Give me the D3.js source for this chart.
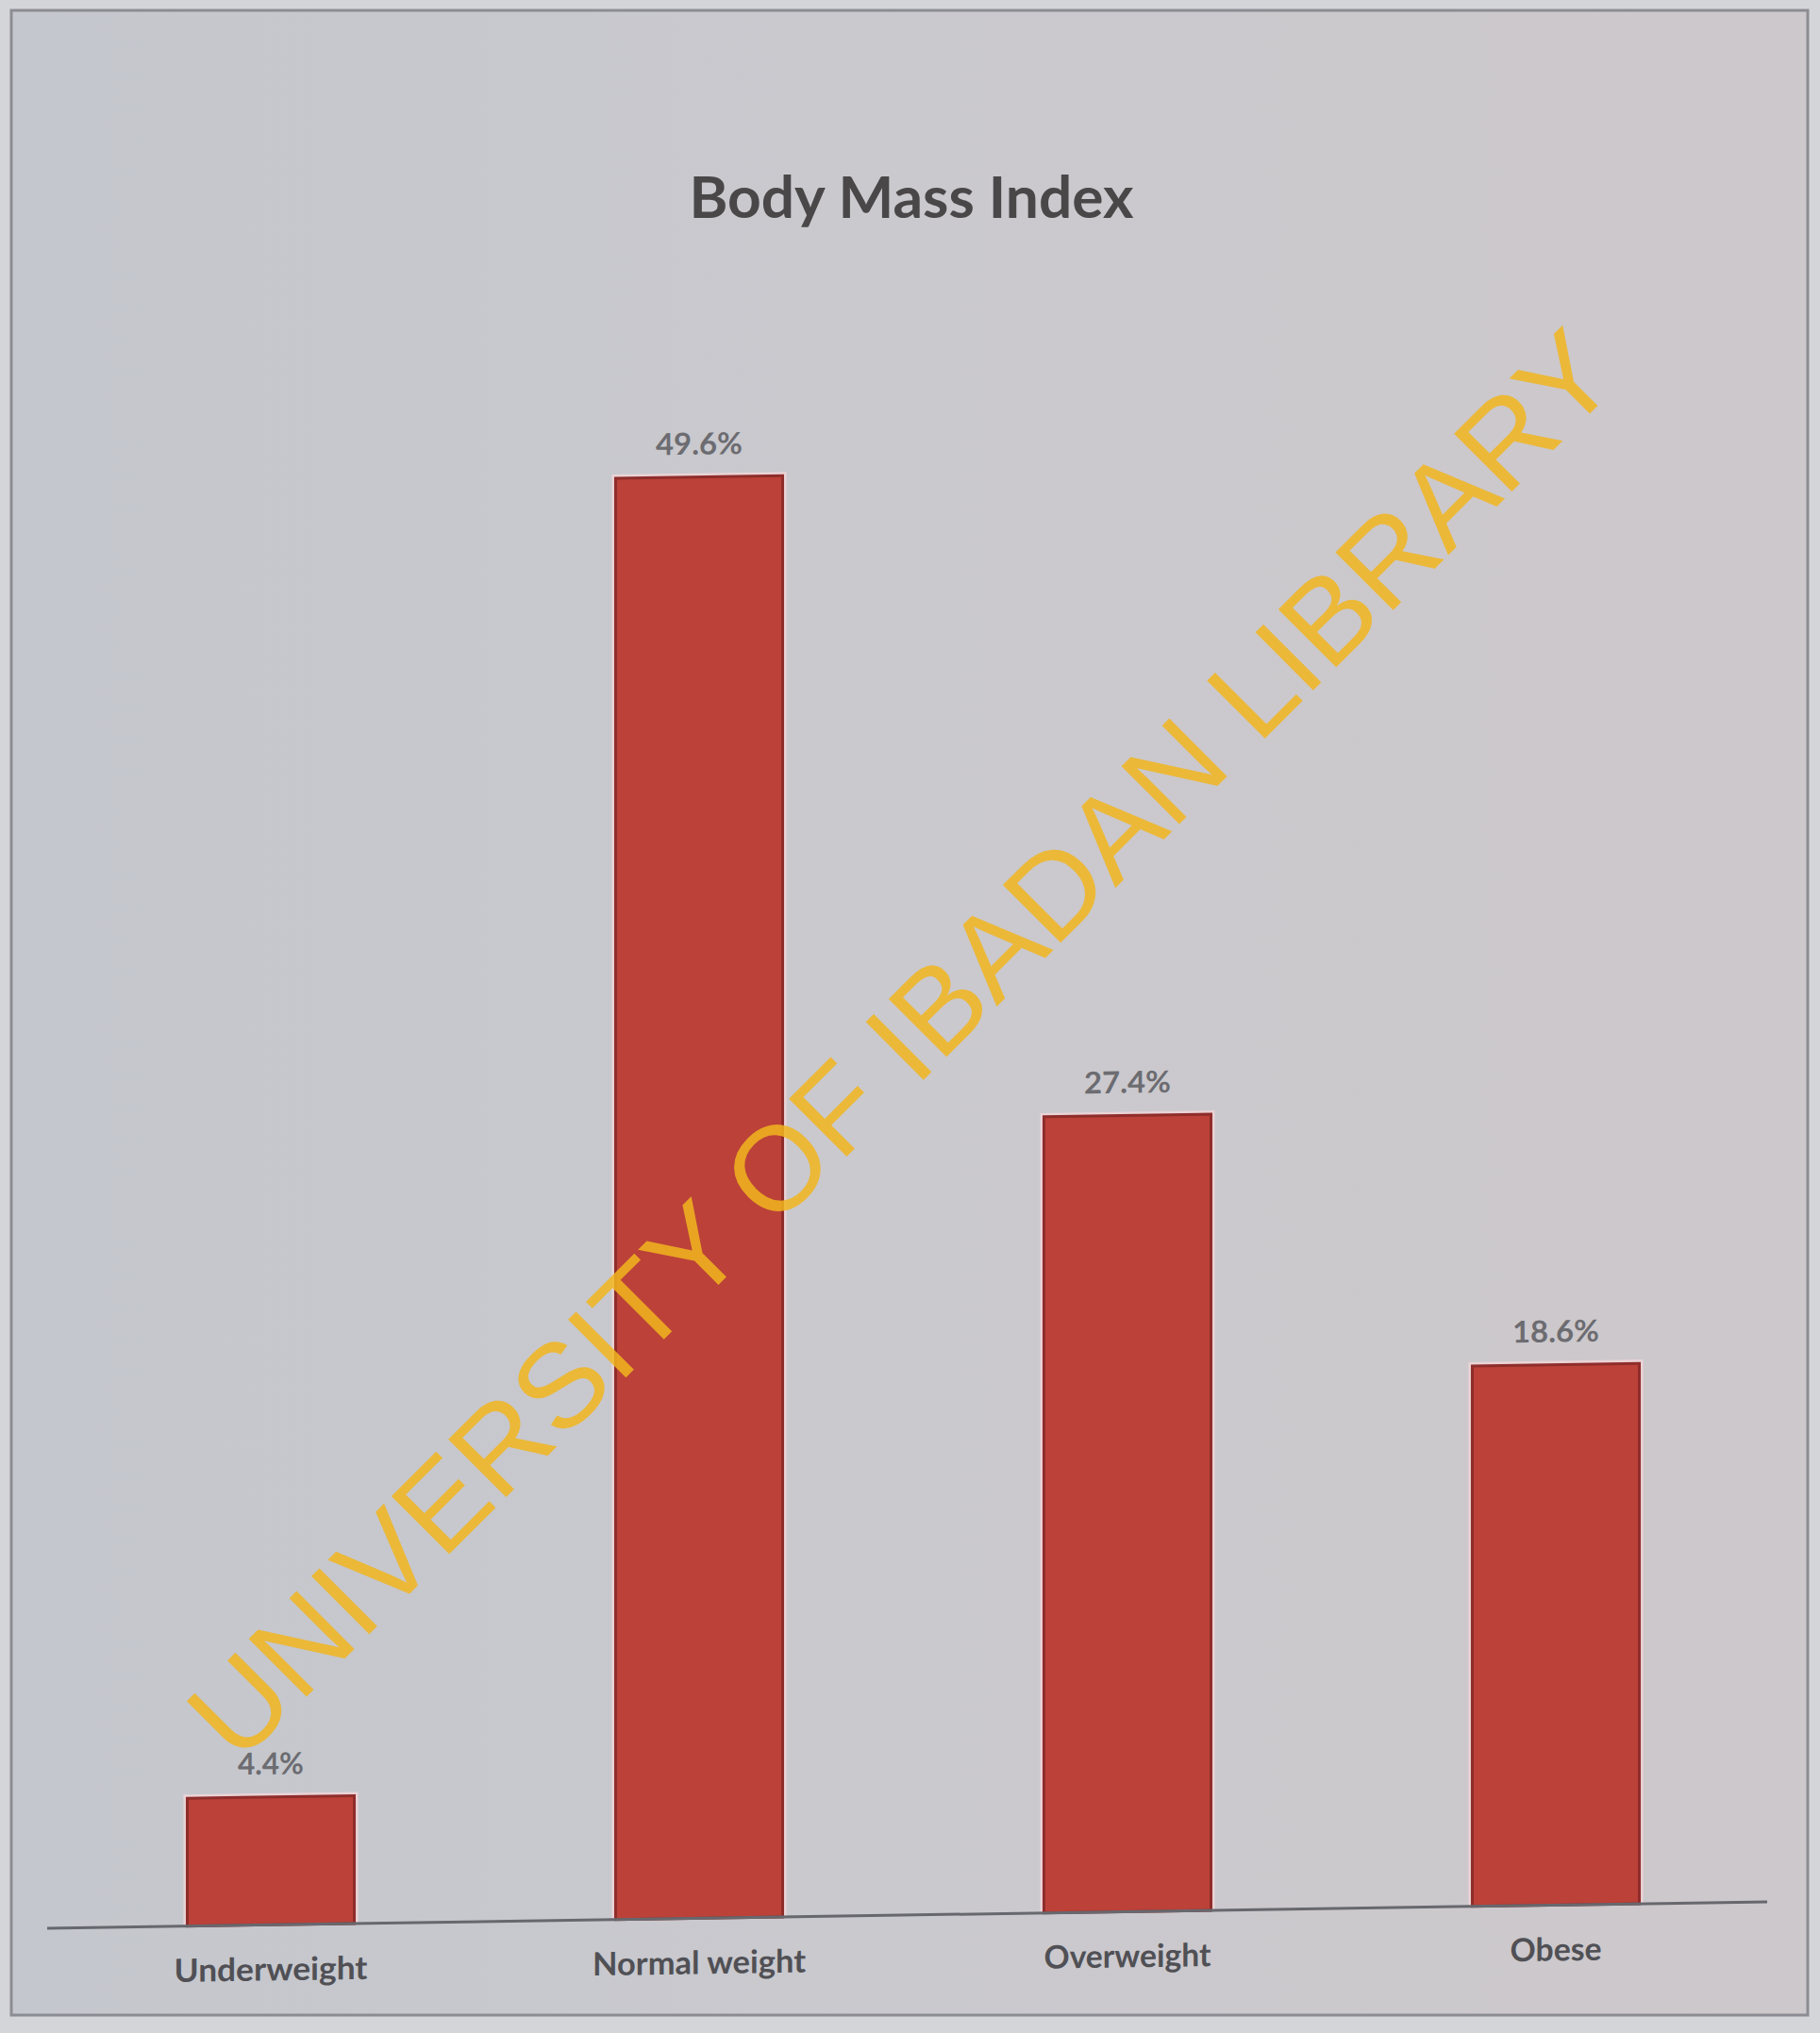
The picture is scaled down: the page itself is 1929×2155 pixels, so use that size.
<!DOCTYPE html>
<html>
<head>
<meta charset="utf-8">
<script src="https://cdn.jsdelivr.net/npm/d3@7"></script>
<style>
body{margin:0;background:#d4d6d9}
svg{display:block}
</style>
</head>
<body>
<svg width="1929" height="2155"></svg>
<script>
// data
const categories=["Underweight","Normal weight","Overweight","Obese"]
const values=[4.4,49.6,27.4,18.6]
const valueLabels=["4.4%","49.6%","27.4%","18.6%"]
const catWidths=[205,226,177,97]
const valWidths=[70,92,92,92]

const svg=d3.select("svg")
const W=1929,H=2155

// background + frame
let defs=svg.append("defs")
let gr=defs.append("linearGradient").attr("id","bg").attr("x1","0").attr("x2","1").attr("y1","0").attr("y2","0")
gr.append("stop").attr("offset","0").attr("stop-color","#c4c7cd")
gr.append("stop").attr("offset","0.5").attr("stop-color","#cac9ce")
gr.append("stop").attr("offset","1").attr("stop-color","#cdc8cb")

svg.append("rect").attr("width",W).attr("height",H).attr("fill","#d3d5d8")
svg.append("rect").attr("x",12).attr("y",11).attr("width",1904).attr("height",2125)
.attr("fill","url(#bg)").attr("stroke","#8c8d93").attr("stroke-width",3)

// title
svg.append("text").attr("x",966).attr("y",231).attr("text-anchor","middle")
.attr("font-family","Lato, 'Open Sans', sans-serif").attr("font-weight","bold")
.attr("font-size",62).attr("fill","#4a4748")
.attr("textLength",471).attr("lengthAdjust","spacingAndGlyphs")
.text("Body Mass Index")

// chart, slightly skewed like the photo
const base=2030
const g=svg.append("g").attr("transform","translate(0,14.75) skewY(-0.88)")

const x=d3.scaleBand().domain(categories).range([60,1876]).paddingInner(0.61).paddingOuter(0.305)
const y=d3.scaleLinear().domain([0,50]).range([base,base-30.8*50])

// pinkish halo round bars
g.selectAll(".halo").data(values).join("rect").attr("class","halo")
.attr("x",(d,i)=>x(categories[i])-4).attr("width",x.bandwidth()+8)
.attr("y",d=>y(d)-4).attr("height",d=>y(0)-y(d)+4)
.attr("fill","#ead3d6")

g.selectAll(".bar").data(values).join("rect").attr("class","bar")
.attr("x",(d,i)=>x(categories[i])).attr("width",x.bandwidth())
.attr("y",d=>y(d)).attr("height",d=>y(0)-y(d))
.attr("fill","#bb4139").attr("stroke","#8f2d2b").attr("stroke-width",3)

// axis line
const axis=g.append("g").attr("transform","translate(0,"+base+")")
.call(d3.axisBottom(x).tickSize(0).tickFormat(""))
axis.select(".domain").attr("stroke","#67686e").attr("stroke-width",3)
.attr("d","M50,0H1873")

// value labels
g.selectAll(".val").data(values).join("text").attr("class","val")
.attr("x",(d,i)=>x(categories[i])+x.bandwidth()/2).attr("y",d=>y(d)-24)
.attr("text-anchor","middle").attr("font-family","Lato, 'Open Sans', sans-serif")
.attr("font-weight","bold").attr("font-size",32).attr("fill","#6c6c71")
.attr("textLength",(d,i)=>valWidths[i]).attr("lengthAdjust","spacingAndGlyphs")
.text((d,i)=>valueLabels[i])

// category labels
g.selectAll(".cat").data(categories).join("text").attr("class","cat")
.attr("x",d=>x(d)+x.bandwidth()/2).attr("y",base+59)
.attr("text-anchor","middle").attr("font-family","Lato, 'Open Sans', sans-serif")
.attr("font-weight","bold").attr("font-size",34).attr("fill","#505055")
.attr("textLength",(d,i)=>catWidths[i]).attr("lengthAdjust","spacingAndGlyphs")
.text(d=>d)

// watermark
svg.append("text").attr("transform","translate(955,1107) rotate(-45)")
.attr("text-anchor","middle").attr("dominant-baseline","central")
.attr("font-family","'Liberation Sans', Arial, sans-serif").attr("font-size",126)
.attr("fill","#f2b61f").attr("opacity",0.85)
.attr("textLength",2075).attr("lengthAdjust","spacingAndGlyphs")
.text("UNIVERSITY OF IBADAN LIBRARY")
</script>
</body>
</html>
